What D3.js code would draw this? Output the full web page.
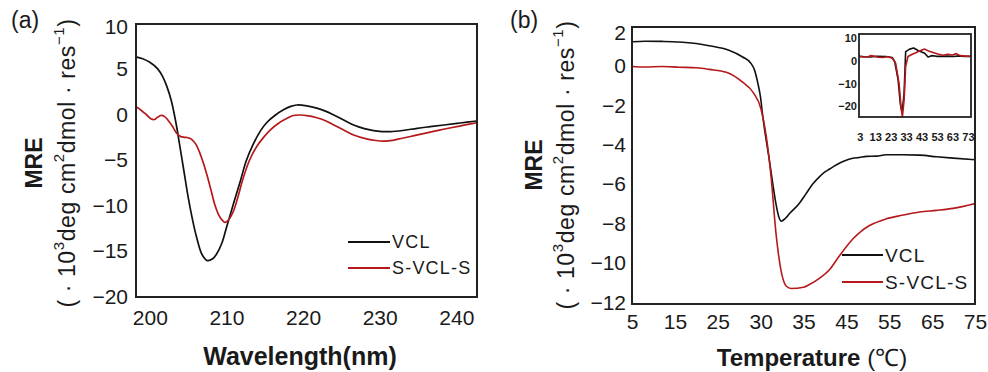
<!DOCTYPE html>
<html><head><meta charset="utf-8">
<script src="https://cdn.jsdelivr.net/npm/d3@7"></script>
<style>
html,body{margin:0;padding:0;background:#fff;}
text{font-family:"Liberation Sans",Arial,sans-serif;fill:#1a1a1a;}
</style></head>
<body>
<svg id="c" width="988" height="372"></svg>
<script>
// ---------- DATA ----------
// Panel (a): CD spectra, wavelength (nm) vs MRE
const specVCL = [[198.2,6.4],[199,6.2],[200,5.8],[201,5.1],[201.7,4.2],[202.2,3.2],[202.8,1.6],[203.4,-0.8],[203.9,-3.3],[204.5,-6.4],[205,-9.0],[205.6,-11.6],[206.1,-13.4],[206.8,-15.3],[207.5,-16.0],[208.2,-15.8],[208.7,-15.3],[209.4,-14.1],[210,-12.4],[210.9,-9.8],[211.8,-7.3],[212.6,-5.0],[213.5,-3.2],[214.4,-1.8],[215.3,-0.8],[216.4,0.0],[217.5,0.6],[218.4,0.95],[219.2,1.1],[220.5,1.0],[221.8,0.75],[223,0.4],[224,0.0],[225.3,-0.55],[226.6,-1.1],[228,-1.5],[229.2,-1.72],[230.3,-1.82],[231.4,-1.83],[233,-1.7],[234.9,-1.46],[236.6,-1.28],[238.4,-1.1],[240.5,-0.88],[242.7,-0.66]];
const specSVCLS = [[198.2,0.9],[198.9,0.5],[199.6,0.0],[200.2,-0.45],[200.6,-0.5],[201.0,-0.25],[201.5,-0.05],[201.9,-0.15],[202.4,-0.6],[203,-1.3],[203.5,-2.0],[204,-2.35],[204.5,-2.45],[205,-2.5],[205.5,-2.7],[206.0,-3.2],[206.5,-4.1],[207.0,-5.3],[207.5,-6.7],[208.0,-8.3],[208.5,-9.9],[209.0,-11.0],[209.5,-11.6],[209.8,-11.8],[210.2,-11.6],[210.9,-10.6],[211.5,-9.0],[212.2,-6.9],[213,-5.0],[214,-3.4],[214.9,-2.4],[215.7,-1.65],[216.8,-0.9],[217.9,-0.37],[218.7,-0.05],[219.6,0.0],[220.7,-0.1],[221.8,-0.3],[223,-0.65],[224,-1.1],[225.3,-1.65],[226.6,-2.2],[228.4,-2.65],[229.5,-2.8],[230.6,-2.86],[231.7,-2.78],[232.8,-2.58],[234.5,-2.27],[236.3,-1.94],[237.8,-1.66],[239.3,-1.4],[241,-1.12],[242.7,-0.85]];
const ticksWavelength = [200,210,220,230,240];
const ticksMreA = [10,5,0,-5,-10,-15,-20];

// Panel (b): thermal melt, temperature (tick-label units) vs MRE
const tempVCL = [[5,1.25],[8,1.28],[12,1.27],[16,1.24],[20,1.16],[23,1.05],[26.3,0.82],[27.9,0.48],[28.9,0.14],[29.3,-0.2],[29.65,-0.8],[30.0,-1.6],[30.24,-2.5],[30.6,-3.6],[31.0,-4.7],[31.4,-5.9],[31.8,-7.0],[32.1,-7.6],[32.4,-7.85],[32.9,-7.7],[33.4,-7.45],[34.5,-6.95],[35.6,-6.45],[37.2,-5.95],[38.7,-5.6],[40,-5.35],[41.1,-5.2],[42.6,-5.0],[44.5,-4.8],[46.5,-4.66],[48,-4.62],[49.7,-4.56],[52,-4.55],[54.3,-4.48],[58,-4.48],[62.1,-4.5],[66,-4.58],[69.9,-4.65],[75,-4.73]];
const tempSVCLS = [[5,0.0],[8,-0.03],[12,0.0],[16,-0.04],[20,-0.07],[23,-0.15],[26,-0.3],[27.9,-0.8],[29.1,-1.3],[30.05,-2.17],[30.64,-3.5],[31.22,-5.6],[31.8,-8.5],[32.4,-10.4],[33.0,-11.15],[33.56,-11.26],[35,-11.2],[36.4,-11.06],[38.7,-10.75],[41.1,-10.3],[43.4,-9.6],[46.5,-8.75],[48.5,-8.35],[50.4,-8.07],[54.3,-7.73],[58,-7.55],[62.1,-7.38],[66,-7.3],[69.9,-7.2],[75,-6.96]];
const ticksTemp = [5,15,25,30,35,45,55,65,75];
const ticksMreB = [2,0,-2,-4,-6,-8,-10,-12];

// Inset of panel (b)
const insetVCL = [[2.5,2.3],[6,2.1],[10,2.0],[14,2.3],[20,2.2],[24,1.8],[25.6,0],[27.8,-8],[29.3,-19],[30.4,-22.8],[31.7,-14],[32.7,4.4],[35.3,5.5],[37.9,6],[40.7,4.9],[45,3.7],[47.2,2.0],[49.5,2.6],[52.7,2.3],[56,2.3],[60,2.4],[64,2.2],[67,2.5],[71,2.2],[75,2.3]];
const insetSVCLS = [[2.5,2.3],[5,2.1],[8,2.0],[10,2.6],[12,2.4],[15,1.9],[18,1.8],[21,2.1],[24,1.5],[26.2,-0.7],[28.4,-9.6],[29.7,-20],[30.6,-24.5],[31.7,-17],[32.7,-2.2],[34.2,2.2],[37,3.2],[39.6,4.0],[42,4.8],[45,5.5],[47.5,4.7],[50.4,4.0],[53.5,3.3],[56.9,2.8],[60,3.2],[63,2.9],[65.5,3.5],[68,2.6],[70,2.5],[75,2.3]];
const ticksInsetX = [3,13,23,33,43,53,63,73];
const ticksInsetY = [10,0,-10,-20];

const seriesNames = ["VCL","S-VCL-S"];
const colors = ["#111111","#b5191b"];

// ---------- DRAW ----------
const svg = d3.select("#c");
svg.append("rect").attr("width",988).attr("height",372).attr("fill","#fff");

function yTitle(g, cx1, cx2, cy){
  g.append("text").attr("transform",`translate(${cx1},${cy}) rotate(-90)`)
    .attr("text-anchor","middle").attr("dominant-baseline","central")
    .style("font-size","23px").style("font-weight","bold").text("MRE");
  const t = g.append("text").attr("transform",`translate(${cx2},${cy}) rotate(-90)`)
    .attr("text-anchor","middle").attr("dominant-baseline","central")
    .style("font-size","23px").style("letter-spacing","0.6px");
  t.append("tspan").text("( · 10");
  t.append("tspan").attr("baseline-shift","super").style("font-size","15px").text("3");
  t.append("tspan").text("deg cm");
  t.append("tspan").attr("baseline-shift","super").style("font-size","15px").text("2");
  t.append("tspan").text("dmol · res");
  t.append("tspan").attr("baseline-shift","super").style("font-size","15px").text("−1");
  t.append("tspan").text(")");
}

function panel(opt){
  const g = svg.append("g");
  const {x,y,L,R,T,B} = opt;
  const clipId = "clip"+opt.id;
  g.append("clipPath").attr("id",clipId).append("rect").attr("x",L).attr("y",T).attr("width",R-L).attr("height",B-T);
  const line = d3.line().x(d=>x(d[0])).y(d=>y(d[1])).curve(opt.curve);
  opt.series.forEach((s,i)=>{
    g.append("path").attr("d",line(s)).attr("fill","none").attr("stroke",colors[i])
      .attr("stroke-width",opt.sw).attr("stroke-linejoin","round").attr("clip-path",`url(#${clipId})`);
  });
  const ya = g.append("g").attr("transform",`translate(${L},0)`)
    .call(d3.axisLeft(y).tickValues(opt.yTicks).tickSize(0).tickPadding(opt.yPad).tickFormat(d3.format("d")));
  ya.select(".domain").remove();
  ya.selectAll("text").style("font-size",opt.yFont).style("font-weight",opt.tickWeight||"normal").attr("fill","#1a1a1a").style("font-family",null);
  ya.selectAll(".tick").attr("transform",d=>`translate(0,${Math.min(Math.max(y(d),T+opt.clampT),B-opt.clampB)})`);
  const xa = g.append("g").attr("transform",`translate(0,${B})`)
    .call(d3.axisBottom(x).tickValues(opt.xTicks).tickSize(0).tickPadding(opt.xPad).tickFormat(d3.format("d")));
  xa.select(".domain").remove();
  xa.selectAll("text").style("font-size",opt.xFont).style("font-weight",opt.tickWeight||"normal").attr("fill","#1a1a1a").style("font-family",null);
  g.append("rect").attr("x",L).attr("y",T).attr("width",R-L).attr("height",B-T)
    .attr("fill","none").attr("stroke","#222").attr("stroke-width",opt.fw);
  return g;
}

// Panel (a)
const xA = d3.scaleLinear().domain([198.2,242.7]).range([136,477]);
const yA = d3.scaleLinear().domain([-20,10]).range([297,24]);
panel({id:"a",x:xA,y:yA,L:136,R:477,T:24,B:297,series:[specVCL,specSVCLS],
  curve:d3.curveCatmullRom.alpha(0.5),sw:1.7,yTicks:ticksMreA,xTicks:ticksWavelength,
  yPad:8,xPad:13,yFont:"21px",xFont:"21px",fw:2,clampT:3,clampB:0});

// Panel (b)
const xB = d3.scaleLinear().domain(ticksTemp).range(ticksTemp.map((d,i)=>632+i*(975-632)/(ticksTemp.length-1)));
const yB = d3.scaleLinear().domain([-12.05,2]).range([304,27]);
panel({id:"b",x:xB,y:yB,L:632,R:975,T:27,B:304,series:[tempVCL,tempSVCLS],
  curve:d3.curveMonotoneX,sw:1.6,yTicks:ticksMreB,xTicks:ticksTemp,
  yPad:6,xPad:10,yFont:"21px",xFont:"21px",fw:2,clampT:6,clampB:0});

// Inset
const xI = d3.scaleLinear().domain([2.5,75]).range([859,971]);
const yI = d3.scaleLinear().domain([-24.6,12.2]).range([117,34]);
panel({id:"i",x:xI,y:yI,L:859,R:971,T:34,B:117,series:[insetVCL,insetSVCLS],
  curve:d3.curveLinear,sw:1.6,yTicks:ticksInsetY,xTicks:ticksInsetX,
  yPad:2,xPad:16,yFont:"11px",xFont:"11px",fw:1.8,clampT:0,clampB:0,tickWeight:"bold"});

// Titles
yTitle(svg,34,67,163);
yTitle(svg,534,566,165);
svg.append("text").attr("x",300).attr("y",365).attr("text-anchor","middle")
  .style("font-size","25px").style("font-weight","bold").text("Wavelength(nm)");
const tb = svg.append("text").attr("x",812).attr("y",366).attr("text-anchor","middle")
  .style("font-size","24px").style("font-weight","bold");
tb.append("tspan").text("Temperature ");
tb.append("tspan").style("font-weight","normal").text("(℃)");
svg.append("text").attr("x",11).attr("y",28).style("font-size","23px").text("(a)");
svg.append("text").attr("x",510).attr("y",28).style("font-size","23px").text("(b)");

// Legends
function legend(x0,x1,y0,dy,fs){
  seriesNames.forEach((n,i)=>{
    svg.append("line").attr("x1",x0).attr("x2",x1).attr("y1",y0+i*dy).attr("y2",y0+i*dy)
      .attr("stroke",colors[i]).attr("stroke-width",2.2);
    svg.append("text").attr("x",x1+2).attr("y",y0+i*dy).attr("dominant-baseline","central")
      .style("font-size",fs).style("letter-spacing","1.2px").text(n);
  });
}
legend(348,390,242,26,"18px");
legend(842,883,255,27,"19px");
</script>
</body></html>
